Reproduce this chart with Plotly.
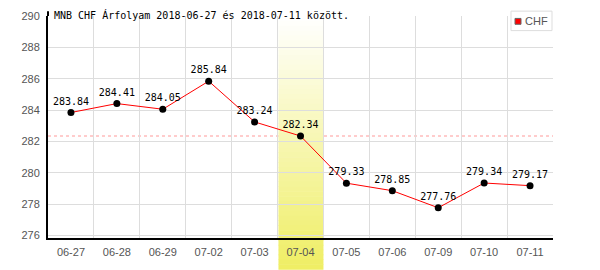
import plotly.graph_objects as go

dates = ["06-27", "06-28", "06-29", "07-02", "07-03", "07-04",
         "07-05", "07-06", "07-09", "07-10", "07-11"]
rates = [283.84, 284.41, 284.05, 285.84, 283.24, 282.34,
         279.33, 278.85, 277.76, 279.34, 279.17]
highlight = "07-04"
series_name = "CHF"
title_text = "MNB CHF Árfolyam 2018-06-27 és 2018-07-11 között."
y_ticks = [276, 278, 280, 282, 284, 286, 288, 290]

W, H = 600, 270
L, R, T, B = 48, 47, 10, 32
PW, PH = W - L - R, H - T - B


def px_x(x):
    return (x - L) / PW


def px_y(y):
    return (H - B - y) / PH


MONO = "DejaVu Sans Mono"
SANS = "Liberation Sans"

fig = go.Figure()
fig.add_trace(go.Scatter(
    x=dates, y=rates, mode="lines+markers+text",
    line=dict(color="#ff0000", width=1),
    marker=dict(color="#000000", size=7),
    text=[f"{v:.2f}" for v in rates], textposition="top center",
    textfont=dict(family=MONO, size=10, color="#000000"),
    showlegend=False, cliponaxis=False, hoverinfo="skip",
))

shapes = []
hi = dates.index(highlight)
# reference dashed line at highlighted value
shapes.append(dict(type="line", xref="paper", yref="y", x0=0, x1=1,
                   y0=rates[hi], y1=rates[hi], layer="between",
                   line=dict(color="#ff9999", width=1, dash="3px,3px")))
# gradient highlight column
top_px, bot_px = 10, 270
n = 52
c0 = (255, 255, 255)
c1 = (239, 238, 100)
step = (bot_px - top_px) / n
for i in range(n):
    t = (i + 0.5) / n
    col = tuple(round(c0[k] + (c1[k] - c0[k]) * t) for k in range(3))
    y_a = top_px + i * step
    y_b = top_px + (i + 1) * step + 0.6
    shapes.append(dict(type="rect", xref="x", yref="paper",
                       x0=hi - 0.5 + 0.02, x1=hi + 0.5,
                       y0=px_y(y_b), y1=px_y(y_a), layer="between",
                       line=dict(width=0), fillcolor="rgb(%d,%d,%d)" % col))
# left axis line extension above plot
shapes.append(dict(type="line", xref="paper", yref="paper", x0=0, x1=0,
                   y0=1, y1=px_y(5), line=dict(color="#000", width=2),
                   layer="above"))
# legend box
shapes.append(dict(type="rect", xref="paper", yref="paper",
                   x0=px_x(511), x1=px_x(552), y0=px_y(25), y1=px_y(5),
                   line=dict(color="#dddddd", width=1), fillcolor="#ffffff",
                   layer="above"))
shapes.append(dict(type="rect", xref="paper", yref="paper",
                   x0=px_x(515), x1=px_x(521), y0=px_y(18.5), y1=px_y(12.5),
                   line=dict(color="#666666", width=1), fillcolor="#ff0000",
                   layer="above"))

annotations = [
    dict(text=title_text, xref="paper", yref="paper", x=px_x(52), y=px_y(9),
         xanchor="left", yanchor="middle", showarrow=False,
         font=dict(family=MONO, size=10, color="#000000")),
    dict(text=series_name, xref="paper", yref="paper", x=px_x(523), y=px_y(15.5),
         xanchor="left", yanchor="middle", showarrow=False,
         font=dict(family=SANS, size=11, color="#555555")),
]

fig.update_layout(
    width=W, height=H, margin=dict(l=L, r=R, t=T, b=B),
    paper_bgcolor="#ffffff", plot_bgcolor="#ffffff",
    shapes=shapes, annotations=annotations, showlegend=False,
    xaxis=dict(type="category", range=[-0.5, len(dates) - 0.5],
               tickson="boundaries", showgrid=True, gridcolor="#dddddd",
               gridwidth=1, showline=True, linecolor="#000000", linewidth=2,
               ticks="", tickfont=dict(family=SANS, size=11, color="#555555"),
               ticklabelstandoff=3, zeroline=False, fixedrange=True),
    yaxis=dict(range=[275.83, 290.0], tickvals=y_ticks,
               showgrid=True, gridcolor="#dddddd", gridwidth=1,
               showline=True, linecolor="#000000", linewidth=2,
               ticks="", tickfont=dict(family=SANS, size=11, color="#555555"),
               ticklabelstandoff=4, zeroline=False, fixedrange=True),
)

fig.write_html("out.html", config={"displayModeBar": False})
